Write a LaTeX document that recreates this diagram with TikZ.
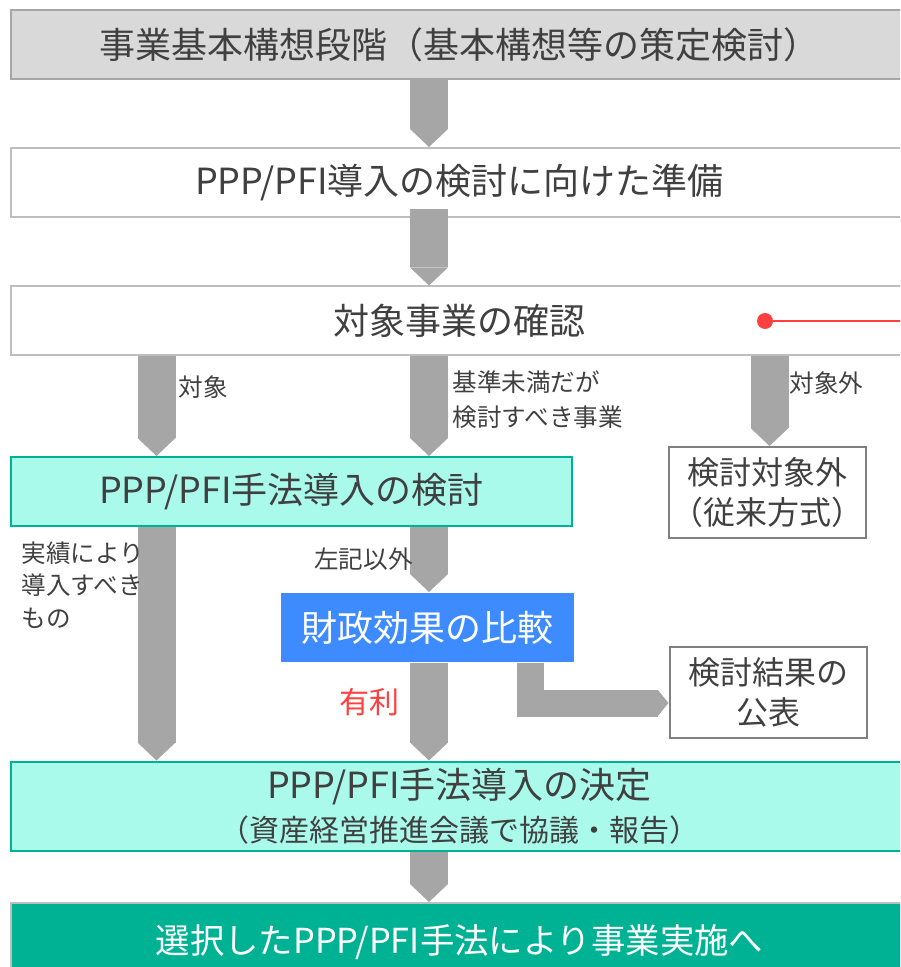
\documentclass[tikz,border=0pt]{standalone}
\usepackage{fontspec}
\setmainfont{Noto Sans CJK JP}
\usetikzlibrary{arrows.meta,positioning}
\definecolor{arrowgray}{RGB}{166,166,166}
\definecolor{framegray}{RGB}{190,190,190}
\definecolor{darkframe}{RGB}{128,128,128}
\definecolor{stagegray}{RGB}{217,217,217}
\definecolor{textgray}{RGB}{64,64,64}
\definecolor{aquafill}{RGB}{170,250,236}
\definecolor{tealgreen}{RGB}{0,178,148}
\definecolor{compareblue}{RGB}{61,139,255}
\definecolor{alertred}{RGB}{255,64,64}

\begin{document}
\begin{tikzpicture}[
    x=0.5pt, y=-0.5pt,
    stagebox/.style={draw=framegray, line width=1pt, inner sep=0pt, align=center, text=textgray, font=\fontsize{18}{22}\selectfont},
    widebox/.style={stagebox, minimum width=448.5pt, minimum height=34.5pt},
    sidebox/.style={stagebox, draw=darkframe, minimum width=98.5pt, minimum height=45.5pt, font=\fontsize{16}{20}\selectfont},
    aquabox/.style={stagebox, draw=tealgreen, fill=aquafill},
    flow/.style={draw=arrowgray, line width=19pt, -{Triangle[length=9pt, width=19pt, line width=0pt]}},
    flowbent/.style={draw=arrowgray, line width=13.5pt, -{Triangle[length=5.5pt, width=13.5pt, line width=0pt]}},
    note/.style={inner sep=0pt, align=left, text=textgray, font=\fontsize{12.3}{17.5}\selectfont},
    dotmark/.style={circle, fill=alertred, inner sep=0pt, minimum size=8pt},
    redline/.style={draw=alertred, line width=0.8pt}
]
\clip (0,0) rectangle (900,967);

% columns for the block arrows
\coordinate (leftcol) at (156.5,0);
\coordinate (midcol) at (429,0);
\coordinate (rightcol) at (769.5,0);

% boxes
\node[widebox, fill=stagegray, draw=arrowgray] (kousou) at (459.5,44.5) {事業基本構想段階（基本構想等の策定検討）};
\node[widebox, fill=white] (junbi) at (459.5,182.5) {PPP/PFI導入の検討に向けた準備};
\node[widebox, fill=white] (kakunin) at (459.5,321) {対象事業の確認};
\node[aquabox, minimum width=280.5pt, minimum height=34.5pt] (kentou) at (291.5,491.5) {PPP/PFI手法導入の検討};
\node[sidebox] (taishougai) at (767.5,492.5) {検討対象外\\（従来方式）};
\node[stagebox, draw=none, fill=compareblue, text=white, minimum width=146.5pt, minimum height=34.5pt] (hikaku) at (427.5,627.5) {財政効果の比較};
\node[sidebox] (kouhyou) at (768,692) {検討結果の\\公表};
\node[aquabox, minimum width=448.5pt, minimum height=44.5pt, font=\fontsize{18}{21.5}\selectfont] (kettei) at (459.5,806)
    {PPP/PFI手法導入の決定\\{\fontsize{15}{21.5}\selectfont （資産経営推進会議で協議・報告）}};
\node[widebox, fill=tealgreen, draw=framegray, text=white, minimum height=39pt, font=\fontsize{17.2}{20}\selectfont] (jisshi) at (459.5,942) {選択したPPP/PFI手法により事業実施へ};

% red marker
\node[dotmark] (marker) at (765,321) {};
\draw[redline] (marker) -- (marker -| kakunin.east);

% block arrows
\draw[flow] (kousou.south -| midcol) -- (junbi.north -| midcol);
\draw[flow] ([yshift=4.5pt]junbi.south -| midcol) -- (kakunin.north -| midcol);
\draw[flow] (kakunin.south -| leftcol) -- (kentou.north -| leftcol);
\draw[flow] (kakunin.south -| midcol) -- (kentou.north -| midcol);
\draw[flow] (kakunin.south -| rightcol) -- (taishougai.north -| rightcol);
\draw[flow] (kentou.south -| leftcol) -- (kettei.north -| leftcol);
\draw[flow] (kentou.south -| midcol) -- (hikaku.north -| midcol);
\draw[flow] (hikaku.south -| midcol) -- (kettei.north -| midcol);
\draw[flow] (kettei.south -| midcol) -- (jisshi.north -| midcol);
\draw[flowbent] ([xshift=-22.5pt]hikaku.south east) |- ([yshift=-5.5pt]kouhyou.west);

% labels
\node[note, anchor=west] (lbltaishou) at (178,387) {対象};
\node[note, anchor=west] (lblkijun) at (452,400) {基準未満だが\\検討すべき事業};
\node[note, anchor=west] (lblgai) at (789,383) {対象外};
\node[note, anchor=west, font=\fontsize{12.3}{16.25}\selectfont] (lbljisseki) at (21,585) {実績により\\導入すべき\\もの};
\node[note, anchor=east] (lblsaki) at (413,559) {左記以外};
\node[note, text=alertred, font=\fontsize{15}{18}\selectfont] (lblyuuri) at (369,702) {有利};
\end{tikzpicture}
\end{document}
